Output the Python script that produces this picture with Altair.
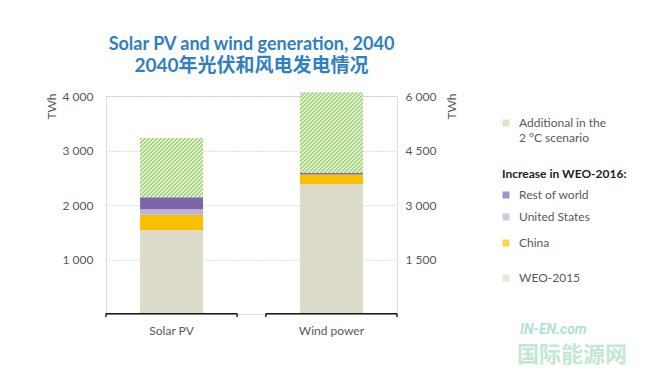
import altair as alt
import pandas as pd

# ---------------- data ----------------
categories = ["Solar PV", "Wind power"]
segments = ["WEO-2015", "China", "United States", "Rest of world"]
solar_twh = [1540, 280, 100, 220]          # stacked from the bottom
wind_twh = [3580, 260, 0, 40]
additional_2c = [1090, 2220]               # solar, wind: extra in the 2 °C scenario
left_ticks = [1000, 2000, 3000, 4000]
right_ticks = [1500, 3000, 4500, 6000]
left_max = 4000
right_max = 6000

legend_labels = ["Rest of world", "United States", "China", "WEO-2015"]
legend_header = "Increase in WEO-2016:"
legend_additional = ["Additional in the", "2 °C scenario"]

# ---------------- styles ----------------
seg_colors = ["#dddccb", "#f9c000", "#bfb2d8", "#7a66a8"]
hatch_dark = "#a3d67f"
hatch_light = "#e3f2d2"
title_blue = "#2f80c2"
text_grey = "#595959"
FONT = "Lato"
W, H = 291, 218
BAR = 63


def hatch(w, h, period=4.0):
    """diagonal '/' stripes built from a hard-stop linear gradient"""
    k = (w + h) / (w * w + h * h)
    total = w + h
    stops = []
    s = 0.0
    while s < total:
        o0 = s / total
        o1 = min((s + period / 2) / total, 1.0)
        o2 = min((s + period) / total, 1.0)
        stops += [alt.GradientStop(offset=o0, color=hatch_dark),
                  alt.GradientStop(offset=o1, color=hatch_dark),
                  alt.GradientStop(offset=o1, color=hatch_light),
                  alt.GradientStop(offset=o2, color=hatch_light)]
        s += period
    return alt.LinearGradient(gradient="linear", stops=stops,
                              x1=0, y1=0, x2=w * k, y2=h * k)


def stack_rows(cat, vals):
    rows, acc = [], 0
    for seg, v in zip(segments, vals):
        rows.append({"cat": cat, "seg": seg, "start": acc, "end": acc + v})
        acc += v
    return pd.DataFrame(rows), acc


solar_df, solar_base = stack_rows(categories[0], solar_twh)
wind_df, wind_base = stack_rows(categories[1], wind_twh)
solar_add = pd.DataFrame([{"cat": categories[0], "start": solar_base,
                           "end": solar_base + additional_2c[0]}])
wind_add = pd.DataFrame([{"cat": categories[1], "start": wind_base,
                          "end": wind_base + additional_2c[1]}])

xscale = alt.Scale(domain=categories, paddingInner=0.18, paddingOuter=0)
xaxis = alt.Axis(title=None, domain=False, ticks=False, labelAngle=0,
                 labelPadding=11, labelFontSize=12, labelColor=text_grey,
                 labelFont=FONT, grid=False)
color_scale = alt.Scale(domain=segments, range=seg_colors)

label_expr = "replace(format(datum.value, ',d'), ',', ' ')"
left_axis = alt.Axis(orient="left", values=left_ticks, labelExpr=label_expr,
                     domain=False, ticks=False, grid=True, gridColor="#c9c4c4",
                     gridDash=[1, 2], gridWidth=1, labelPadding=13,
                     labelFontSize=12, labelColor=text_grey, labelFont=FONT,
                     title="TWh", titleAngle=270, titleX=-55, titleY=10,
                     titleAlign="center", titleBaseline="middle",
                     titleFont=FONT, titleFontSize=12, titleFontWeight="normal",
                     titleColor=text_grey)
right_axis = alt.Axis(orient="right", values=right_ticks, labelExpr=label_expr,
                      domain=False, ticks=False, grid=False, labelPadding=8,
                      labelFontSize=12, labelColor=text_grey, labelFont=FONT,
                      title="TWh", titleAngle=270, titleX=54, titleY=10,
                      titleAlign="center", titleBaseline="middle",
                      titleFont=FONT, titleFontSize=12, titleFontWeight="normal",
                      titleColor=text_grey)

solar_scale = alt.Scale(domain=[0, left_max], nice=False)
wind_scale = alt.Scale(domain=[0, right_max], nice=False)

solar_bars = alt.Chart(solar_df).mark_bar(size=BAR).encode(
    x=alt.X("cat:N", scale=xscale, axis=xaxis),
    y=alt.Y("start:Q", scale=solar_scale, axis=left_axis),
    y2="end:Q",
    color=alt.Color("seg:N", scale=color_scale, legend=None),
)
solar_hatch = alt.Chart(solar_add).mark_bar(
    size=BAR, color=hatch(BAR, additional_2c[0] / left_max * H)).encode(
    x=alt.X("cat:N", scale=xscale, axis=xaxis),
    y=alt.Y("start:Q", scale=solar_scale, axis=left_axis),
    y2="end:Q",
)
wind_bars = alt.Chart(wind_df).mark_bar(size=BAR).encode(
    x=alt.X("cat:N", scale=xscale, axis=xaxis),
    y=alt.Y("start:Q", scale=wind_scale, axis=right_axis),
    y2="end:Q",
    color=alt.Color("seg:N", scale=color_scale, legend=None),
)
wind_hatch = alt.Chart(wind_add).mark_bar(
    size=BAR, color=hatch(BAR, additional_2c[1] / right_max * H)).encode(
    x=alt.X("cat:N", scale=xscale, axis=xaxis),
    y=alt.Y("start:Q", scale=wind_scale, axis=right_axis),
    y2="end:Q",
)

left_group = alt.layer(solar_bars, solar_hatch)
right_group = alt.layer(wind_bars, wind_hatch)

# baseline brackets under each category
cat_df = pd.DataFrame({"cat": categories})
bracket = alt.Chart(cat_df).mark_rect(color="#1a1a1a").encode(
    x=alt.X("cat:N", scale=xscale, axis=xaxis),
    y=alt.value(H - 1), y2=alt.value(H + 0.6),
)
bracket_l = alt.Chart(cat_df).mark_rule(color="#1a1a1a", strokeWidth=1.4).encode(
    x=alt.X("cat:N", scale=xscale, axis=xaxis, bandPosition=0),
    y=alt.value(H - 0.5), y2=alt.value(H + 3),
)
bracket_r = alt.Chart(cat_df).mark_rule(color="#1a1a1a", strokeWidth=1.4).encode(
    x=alt.X("cat:N", scale=xscale, axis=xaxis, bandPosition=1),
    y=alt.value(H - 0.5), y2=alt.value(H + 3),
)

# ---------------- manual legend ----------------
one = pd.DataFrame({"a": [0]})
LX_SYM, LX_TXT = 400, 413
legend_layers = []
legend_layers.append(alt.Chart(one).mark_square(
    size=49, color=hatch(7, 7, 2.4)).encode(x=alt.value(LX_SYM), y=alt.value(27)))
for i, line in enumerate(legend_additional):
    legend_layers.append(alt.Chart(one).mark_text(
        align="left", baseline="middle", font=FONT, fontSize=12,
        color=text_grey).encode(x=alt.value(LX_TXT), y=alt.value(27 + 15 * i),
                                text=alt.value(line)))
legend_layers.append(alt.Chart(one).mark_text(
    align="left", baseline="middle", font=FONT, fontSize=12, fontWeight="bold",
    color="#222222").encode(x=alt.value(LX_SYM - 4), y=alt.value(78),
                            text=alt.value(legend_header)))
legend_y = [99, 121, 147, 182]
for lab, ly in zip(legend_labels, legend_y):
    col = seg_colors[segments.index(lab)]
    legend_layers.append(alt.Chart(one).mark_square(size=49, color=col).encode(
        x=alt.value(LX_SYM), y=alt.value(ly)))
    legend_layers.append(alt.Chart(one).mark_text(
        align="left", baseline="middle", font=FONT, fontSize=12,
        color=text_grey).encode(x=alt.value(LX_TXT), y=alt.value(ly),
                                text=alt.value(lab)))

# watermark text
wm1 = alt.Chart(one).mark_text(
    align="left", baseline="middle", font="Roboto", fontSize=14,
    fontWeight="bold", fontStyle="italic", color="#8fd6c6", opacity=0.7).encode(
    x=alt.value(414), y=alt.value(234), text=alt.value("IN-EN.com"))
wm2 = alt.Chart(one).mark_text(
    align="left", baseline="middle", font="Noto Sans CJK SC", fontSize=22,
    fontWeight="bold", color="#a9dfc1", opacity=0.7).encode(
    x=alt.value(411), y=alt.value(259), text=alt.value("国际能源网"))

chart = alt.layer(
    left_group, right_group, bracket, bracket_l, bracket_r,
    *legend_layers, wm1, wm2,
).resolve_scale(y="independent").properties(
    width=W, height=H,
    title=alt.TitleParams(
        text="Solar PV and wind generation, 2040",
        subtitle="2040年光伏和风电发电情况",
        anchor="middle", font=FONT, fontSize=18, fontWeight="bold",
        color=title_blue, subtitleFont=f"{FONT}, Noto Sans CJK SC",
        subtitleFontSize=19, subtitleFontWeight="bold",
        subtitleColor=title_blue, subtitlePadding=3, offset=14,
    ),
    autosize=alt.AutoSizeParams(type="none"),
    padding={"left": 98, "top": 88, "right": 245, "bottom": 58},
).configure_view(stroke=None).configure(background="white")

chart.save("out.html", embed_options={"renderer": "svg", "actions": False})
